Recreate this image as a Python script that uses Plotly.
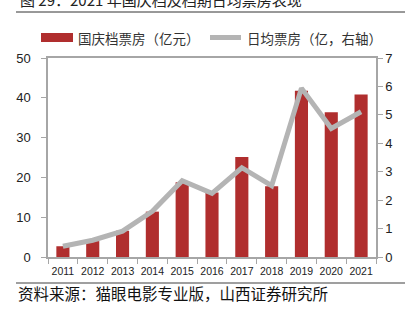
import plotly.graph_objects as go

years = ["2011", "2012", "2013", "2014", "2015", "2016", "2017", "2018", "2019", "2020", "2021"]
box_office = [2.7, 4.0, 6.6, 11.4, 18.8, 16.2, 25.1, 17.8, 41.8, 36.4, 40.8]
daily_box_office = [0.38, 0.59, 0.91, 1.61, 2.68, 2.24, 3.14, 2.51, 5.94, 4.52, 5.11]

bar_name = "国庆档票房（亿元）"
line_name = "日均票房（亿，右轴）"
title_text = "图 29：2021 年国庆档及档期日均票房表现"
source_text = "资料来源：猫眼电影专业版，山西证券研究所"

W, H = 417, 324
L, R, T, B = 48, 41, 58, 67
pw, ph = W - L - R, H - T - B


def px(x):
    return (x - L) / pw


def py(y):
    return (H - B - y) / ph


CJK = "Noto Sans CJK SC"
AX = "#A6A6A6"

fig = go.Figure()
fig.add_trace(go.Bar(x=years, y=box_office, name=bar_name, marker=dict(color="#B02E2E", line=dict(width=0)),
                     width=0.44, showlegend=False, yaxis="y"))
fig.add_trace(go.Scatter(x=years, y=daily_box_office, name=line_name, mode="lines",
                         line=dict(color="#B4B4B4", width=5), showlegend=False, yaxis="y2"))

fig.update_layout(
    width=W, height=H,
    margin=dict(l=L, r=R, t=T, b=B),
    paper_bgcolor="white", plot_bgcolor="white",
    font=dict(family="Liberation Sans", size=12, color="#222222"),
    xaxis=dict(type="category", showline=True, mirror=True, linecolor=AX, linewidth=1.5,
               ticks="outside", tickson="boundaries", ticklen=5, tickcolor=AX, tickangle=0,
               ticklabelstandoff=4,
               tickfont=dict(size=10.5, family="Liberation Sans", color="#222222"),
               showgrid=False, zeroline=False),
    yaxis=dict(range=[0, 50], dtick=10, showline=True, linecolor=AX, linewidth=1.5,
               ticks="outside", ticklen=5, tickcolor=AX, showgrid=False, zeroline=False,
               ticklabelstandoff=8, tickfont=dict(size=13)),
    yaxis2=dict(range=[0, 7], dtick=1, overlaying="y", side="right", showline=True,
                linecolor=AX, linewidth=1.5, ticks="outside", ticklen=5, tickcolor=AX,
                showgrid=False, zeroline=False, tickfont=dict(size=13)),
    bargap=0.56,
)

shapes = [
    dict(type="line", xref="paper", yref="paper", x0=px(16), x1=px(405), y0=py(12), y1=py(12),
         line=dict(color="#333333", width=1)),
    dict(type="line", xref="paper", yref="paper", x0=px(16), x1=px(405), y0=py(283), y1=py(283),
         line=dict(color="#7F7F7F", width=1.5)),
    dict(type="rect", xref="paper", yref="paper", x0=px(41), x1=px(73), y0=py(42), y1=py(33),
         fillcolor="#B02E2E", line=dict(width=0)),
    dict(type="line", xref="paper", yref="paper", x0=px(210), x1=px(241), y0=py(37.5), y1=py(37.5),
         line=dict(color="#B4B4B4", width=5)),
]
annotations = [
    dict(text=title_text, xref="paper", yref="paper", x=px(18), y=py(-0.5), xanchor="left",
         yanchor="middle", showarrow=False, font=dict(family=CJK, size=15, color="#222222")),
    dict(text=bar_name, xref="paper", yref="paper", x=px(76), y=py(37.5), xanchor="left",
         yanchor="middle", showarrow=False, font=dict(family=CJK, size=13.5, color="#333333")),
    dict(text=line_name, xref="paper", yref="paper", x=px(245), y=py(37.5), xanchor="left",
         yanchor="middle", showarrow=False, font=dict(family=CJK, size=13.5, color="#333333")),
    dict(text=source_text, xref="paper", yref="paper", x=px(16), y=py(293), xanchor="left",
         yanchor="middle", showarrow=False, font=dict(family=CJK, size=15.5, color="#111111")),
]
fig.update_layout(shapes=shapes, annotations=annotations)

fig.write_html("out.html")
